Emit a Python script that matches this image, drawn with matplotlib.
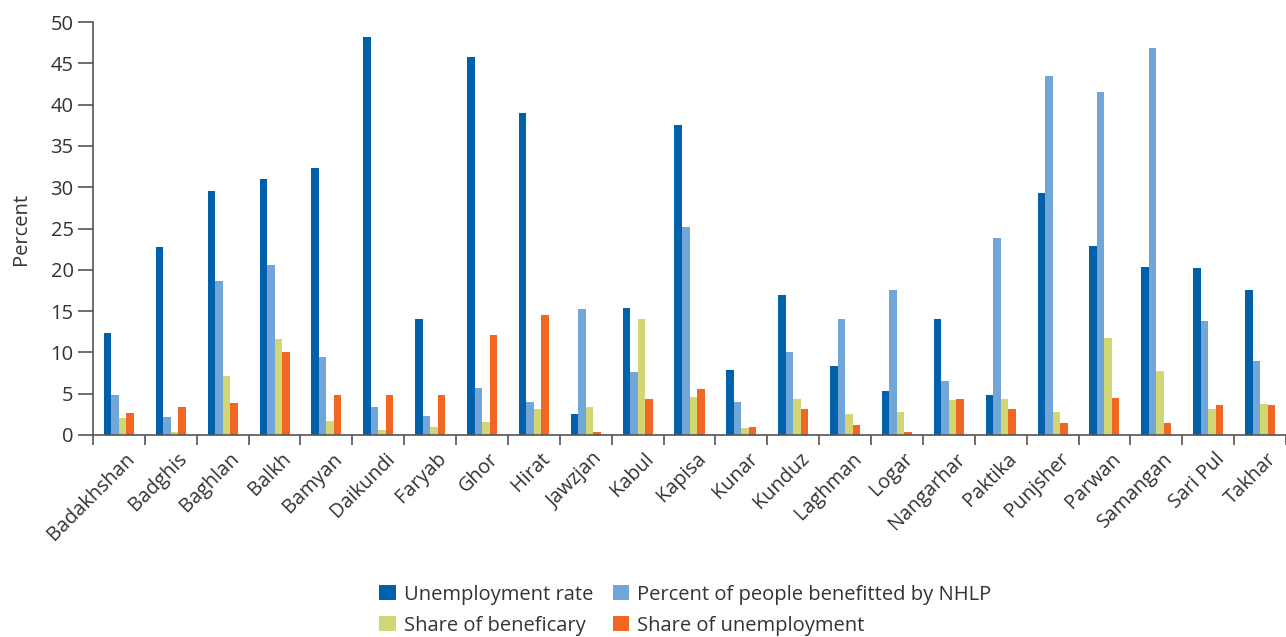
import matplotlib
matplotlib.use("Agg")
import matplotlib.pyplot as plt
import numpy as np
from matplotlib.patches import Patch

provinces = ["Badakhshan", "Badghis", "Baghlan", "Balkh", "Bamyan", "Daikundi", "Faryab",
             "Ghor", "Hirat", "Jawzjan", "Kabul", "Kapisa", "Kunar", "Kunduz", "Laghman",
             "Logar", "Nangarhar", "Paktika", "Punjsher", "Parwan", "Samangan", "Sari Pul", "Takhar"]

unemployment_rate = [12.3, 22.7, 29.6, 31.0, 32.3, 48.2, 14.1,
                     45.8, 39.0, 2.6, 15.4, 37.5, 7.9, 16.9, 8.4,
                     5.3, 14.1, 4.9, 29.3, 22.9, 20.3, 20.2, 17.5]
nhlp_benefit = [4.8, 2.2, 18.6, 20.6, 9.4, 3.4, 2.3,
                5.7, 4.0, 15.2, 7.6, 25.2, 4.0, 10.0, 14.0,
                17.5, 6.5, 23.8, 43.5, 41.5, 46.8, 13.8, 9.0]
share_beneficiary = [2.0, 0.4, 7.2, 11.6, 1.7, 0.6, 1.0,
                     1.6, 3.2, 3.4, 14.0, 4.6, 0.8, 4.3, 2.6,
                     2.8, 4.2, 4.4, 2.8, 11.7, 7.7, 3.2, 3.8]
share_unemployment = [2.7, 3.4, 3.9, 10.1, 4.8, 4.9, 4.8,
                      12.1, 14.5, 0.4, 4.3, 5.6, 1.0, 3.2, 1.2,
                      0.4, 4.4, 3.2, 1.5, 4.5, 1.5, 3.6, 3.6]

series = [
    ("Unemployment rate", unemployment_rate, "#0061AA"),
    ("Percent of people benefitted by NHLP", nhlp_benefit, "#72A6D8"),
    ("Share of beneficary", share_beneficiary, "#D3D773"),
    ("Share of unemployment", share_unemployment, "#F26624"),
]

plt.rcParams['font.family'] = ['Open Sans', 'DejaVu Sans']

fig = plt.figure(figsize=(12.86, 6.37), dpi=100)
ax = fig.add_axes([93/1286, 1 - 435/637, 1 - 93/1286, (435 - 22)/637])

x = np.arange(len(provinces))
w = 0.145
for k, (name, vals, col) in enumerate(series):
    ax.bar(x + (k - 1.5) * w, vals, width=w, color=col, label=name, linewidth=0)

ax.set_xlim(-0.5, 22.35)
ax.set_ylim(0, 50)
ax.set_yticks(np.arange(0, 51, 5))
ax.set_xticks(x + 0.12)
ax.set_xticklabels(provinces, rotation=45, ha='right', va='top', rotation_mode='anchor',
                   fontsize=14.3, color='#333333')
ax.tick_params(axis='x', which='major', length=0, pad=10)
ax.set_xticks(np.arange(-0.5, 23, 1), minor=True)
ax.tick_params(axis='x', which='minor', length=7, width=1.2, color='#555555', direction='out')
ax.tick_params(axis='y', length=11, width=1.2, color='#555555', labelsize=14.5, labelcolor='#333333', pad=3)

for s in ['top', 'right']:
    ax.spines[s].set_visible(False)
for s in ['left', 'bottom']:
    ax.spines[s].set_color('#555555')
    ax.spines[s].set_linewidth(1.2)

ax.set_ylabel("Percent", fontsize=14.5, color='#333333', labelpad=14)

order = [0, 2, 1, 3]
handles = [Patch(facecolor=series[i][2], edgecolor='none') for i in order]
labels = [series[i][0] for i in order]
fig.legend(handles, labels, ncol=2, loc='center', bbox_to_anchor=(0.533, 0.042),
           frameon=False, fontsize=14.5, handletextpad=0.4, columnspacing=1.0,
           labelspacing=0.55, handlelength=0.8, handleheight=0.8, labelcolor='#333333',
           borderpad=0)

fig.savefig("out.png", dpi=100)
